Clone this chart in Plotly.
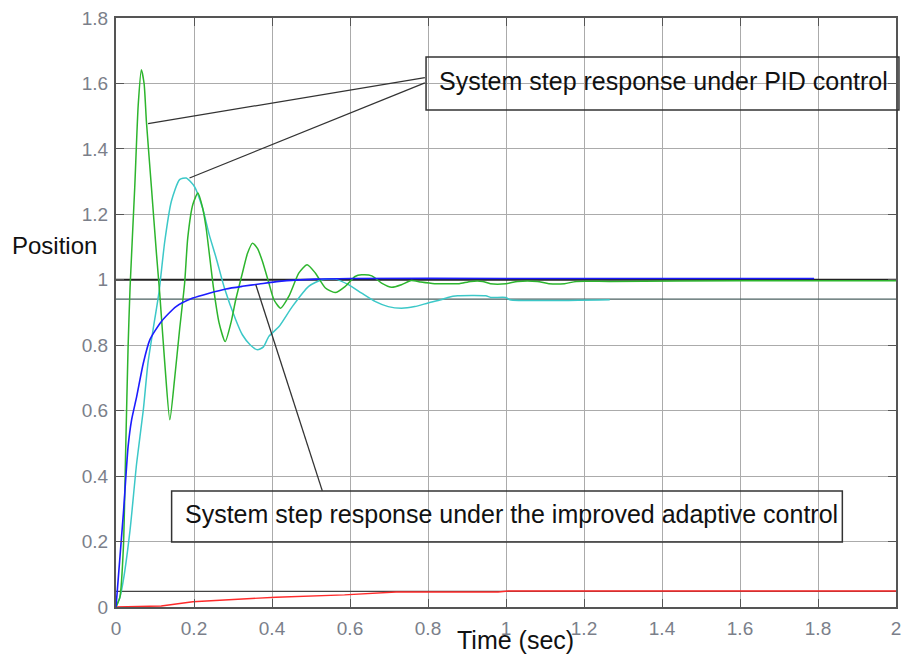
import plotly.graph_objects as go

# ---------------- data ----------------
green_t = [0, 0.01, 0.019, 0.025, 0.031, 0.036, 0.048, 0.057, 0.065, 0.072, 0.078, 0.091, 0.104,
           0.112, 0.125, 0.138, 0.15, 0.163, 0.176, 0.184, 0.197, 0.21, 0.222, 0.231, 0.25, 0.264,
           0.28, 0.295, 0.307, 0.324, 0.337, 0.35, 0.363, 0.375, 0.392, 0.405, 0.422, 0.443, 0.469,
           0.49, 0.511, 0.537, 0.562, 0.588, 0.613, 0.63, 0.656, 0.681, 0.707, 0.732, 0.757, 0.782,
           0.817, 0.85, 0.88, 0.91, 0.94, 0.96, 1.0, 1.03, 1.08, 1.11, 1.15, 1.18, 1.266, 1.6, 2.0]
green_y = [0, 0.03, 0.183, 0.489, 0.795, 0.975, 1.281, 1.535, 1.642, 1.6, 1.483, 1.28, 1.076,
           0.96, 0.746, 0.572, 0.694, 0.847, 0.99, 1.128, 1.23, 1.265, 1.22, 1.159, 0.975, 0.87,
           0.811, 0.87, 0.939, 1.02, 1.08, 1.112, 1.095, 1.058, 0.99, 0.939, 0.913, 0.949, 1.021,
           1.046, 1.021, 0.975, 0.961, 0.98, 1.01, 1.015, 1.012, 0.99, 0.977, 0.985, 0.998, 0.993,
           0.988, 0.988, 0.988, 0.995, 0.995, 0.988, 0.988, 0.995, 0.995, 0.988, 0.988, 0.995, 0.995, 0.997, 0.997]

cyan_t = [0, 0.01, 0.019, 0.036, 0.053, 0.07, 0.082, 0.095, 0.11, 0.125, 0.142, 0.163, 0.18,
          0.201, 0.222, 0.239, 0.257, 0.278, 0.307, 0.324, 0.345, 0.363, 0.378, 0.392, 0.418,
          0.452, 0.494, 0.528, 0.562, 0.596, 0.63, 0.664, 0.698, 0.732, 0.766, 0.8, 0.833, 0.851,
          0.876, 0.948, 0.961, 0.999, 1.01, 1.266]
cyan_y = [0, 0.03, 0.083, 0.235, 0.44, 0.602, 0.746, 0.847, 0.96, 1.117, 1.24, 1.306, 1.311,
          1.285, 1.219, 1.138, 1.066, 0.975, 0.878, 0.832, 0.8, 0.786, 0.795, 0.827, 0.857,
          0.918, 0.98, 1.0, 1.002, 0.985, 0.959, 0.934, 0.918, 0.913, 0.918, 0.929, 0.939, 0.946,
          0.951, 0.951, 0.946, 0.946, 0.939, 0.939]

blue_t = [0, 0.019, 0.031, 0.04, 0.053, 0.07, 0.087, 0.116, 0.154, 0.197, 0.239, 0.282, 0.324,
          0.367, 0.418, 0.511, 0.6, 1.0, 1.4, 1.79]
blue_y = [0, 0.287, 0.49, 0.572, 0.643, 0.745, 0.817, 0.872, 0.918, 0.944, 0.959, 0.972, 0.98,
          0.987, 0.995, 1.002, 1.004, 1.004, 1.004, 1.004]

red_t = [0, 0.116, 0.197, 0.41, 0.586, 0.718, 0.98, 1.006, 2.0]
red_y = [0, 0.003, 0.016, 0.03, 0.037, 0.046, 0.046, 0.049, 0.049]

ref_t = [0, 2]
ref_levels = [1.0, 0.941, 0.048]

x_ticks = [0, 0.2, 0.4, 0.6, 0.8, 1.0, 1.2, 1.4, 1.6, 1.8, 2.0]
x_labels = ["0", "0.2", "0.4", "0.6", "0.8", "1", "1.2", "1.4", "1.6", "1.8", "2"]
y_ticks = [0, 0.2, 0.4, 0.6, 0.8, 1.0, 1.2, 1.4, 1.6, 1.8]
y_labels = ["0", "0.2", "0.4", "0.6", "0.8", "1", "1.2", "1.4", "1.6", "1.8"]

pid_label = "System step response under PID control"
adaptive_label = "System step response under the improved adaptive control"
x_title = "Time (sec)"
y_title = "Position"

# ---------------- figure ----------------
FONT = "Liberation Sans, Arial, sans-serif"
fig = go.Figure()

ref_colors = ["#222222", "#4a6060", "#444444"]
ref_widths = [2, 1.3, 1.2]
for lvl, c, w in zip(ref_levels, ref_colors, ref_widths):
    fig.add_trace(go.Scatter(x=ref_t, y=[lvl, lvl], mode="lines",
                             line=dict(color=c, width=w), hoverinfo="skip"))

fig.add_trace(go.Scatter(x=red_t, y=red_y, mode="lines", line=dict(color="#ff2a2a", width=1.4)))
fig.add_trace(go.Scatter(x=cyan_t, y=cyan_y, mode="lines",
                         line=dict(color="#3cc8c8", width=1.5, shape="spline", smoothing=0.6)))
fig.add_trace(go.Scatter(x=green_t, y=green_y, mode="lines",
                         line=dict(color="#2db52d", width=1.5, shape="spline", smoothing=0.6)))
fig.add_trace(go.Scatter(x=blue_t, y=blue_y, mode="lines",
                         line=dict(color="#1c1cff", width=1.6, shape="spline", smoothing=0.6)))

axis_common = dict(
    showgrid=True, gridcolor="#ababab", gridwidth=1,
    showline=True, linecolor="#555555", linewidth=2, mirror="ticks",
    ticks="inside", ticklen=8, tickcolor="#555555", tickwidth=1,
    tickfont=dict(family=FONT, size=19, color="#7b7f8a"),
    zeroline=False, fixedrange=True,
)
fig.update_xaxes(range=[0, 2], tickvals=x_ticks, ticktext=x_labels, ticklabelstandoff=3, **axis_common)
fig.update_yaxes(range=[0, 1.8], tickvals=y_ticks, ticktext=y_labels, ticklabelstandoff=2, **axis_common)

# text boxes (transparent, gridlines visible through them)
fig.add_shape(type="rect", xref="paper", yref="paper", x0=0.3975, x1=1.0038, y0=0.8438, y1=0.9338,
              line=dict(color="#333333", width=1.5), fillcolor="rgba(0,0,0,0)")
fig.add_shape(type="rect", xref="paper", yref="paper", x0=0.0713, x1=0.9312, y0=0.1104, y1=0.1969,
              line=dict(color="#333333", width=1.5), fillcolor="rgba(0,0,0,0)")

# leader lines
leader = dict(color="#333333", width=1.3)
fig.add_shape(type="line", xref="x", yref="y", x0=0.0823, y0=1.477, x1=0.792, y1=1.618, line=leader)
fig.add_shape(type="line", xref="x", yref="y", x0=0.1885, y0=1.311, x1=0.792, y1=1.602, line=leader)
fig.add_shape(type="line", xref="x", yref="y", x0=0.3585, y0=0.985, x1=0.529, y1=0.355, line=leader)

fig.add_annotation(text=pid_label, xref="x", yref="y", x=1.403, y=1.606, showarrow=False,
                   xanchor="center", yanchor="middle", font=dict(family=FONT, size=25, color="#111111"))
fig.add_annotation(text=adaptive_label, xref="x", yref="y", x=1.013, y=0.284, showarrow=False,
                   xanchor="center", yanchor="middle", font=dict(family=FONT, size=25, color="#111111"))
fig.add_annotation(text=x_title, xref="paper", yref="paper", x=0.512, y=0, yshift=-33, showarrow=False,
                   xanchor="center", yanchor="middle", font=dict(family=FONT, size=25, color="#111111"))
fig.add_annotation(text=y_title, xref="paper", yref="paper", x=0, y=0.6146, xshift=-17, showarrow=False,
                   xanchor="right", yanchor="middle", font=dict(family=FONT, size=24, color="#111111"))

fig.update_layout(
    width=905, height=654, autosize=False,
    margin=dict(l=116, r=4, t=18, b=47, pad=0),
    paper_bgcolor="white", plot_bgcolor="white",
    showlegend=False,
    font=dict(family=FONT),
)

fig.write_html("out.html")
